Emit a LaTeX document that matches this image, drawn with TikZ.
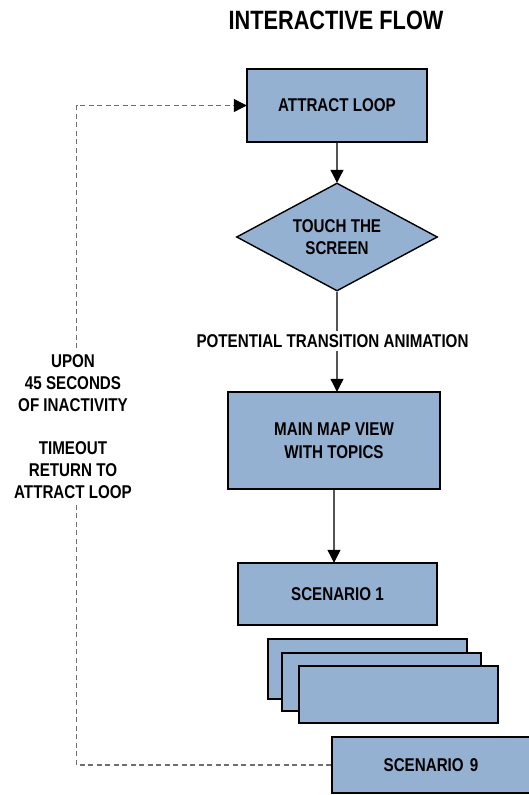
\documentclass[tikz,border=0pt]{standalone}
\usepackage{fontspec}
\newfontfamily\nar[FakeStretch=0.82]{Liberation Sans Bold}
\usetikzlibrary{shapes.geometric,arrows.meta}
\definecolor{boxfill}{RGB}{149,177,210}
\definecolor{linegray}{RGB}{85,85,85}
\definecolor{dashgray}{RGB}{110,110,110}
\tikzset{
  box/.style={draw=black, line width=1.4pt, fill=boxfill, inner sep=0pt, align=center,
    font=\nar\fontsize{18.5}{22.5}\selectfont},
  decision/.style={box, diamond, aspect=1.86},
  tip/.style={-{Triangle[length=13pt,width=13pt,color=black]}},
  flow/.style={draw=linegray, line width=1.1pt, tip, shorten >=-0.5pt},
  back/.style={draw=dashgray, line width=1.1pt, dash pattern=on 5pt off 3.5pt, tip, shorten >=-0.5pt},
  lbl/.style={fill=white, inner sep=3pt, align=center, font=\nar\fontsize{18.5}{21.8}\selectfont},
}
\begin{document}
\begin{tikzpicture}[x=1pt,y=-1pt]
\useasboundingbox (0,0) rectangle (529,795);
\clip (0,0) rectangle (529,795);
\node[font=\nar\fontsize{26.5}{30}\selectfont] (title) at (336,20) {INTERACTIVE FLOW};
\node[box, minimum width=180, minimum height=73] (attract) at (337,105.5) {ATTRACT LOOP};
\node[decision, minimum width=201, minimum height=108] (touch) at (337,237) {TOUCH THE\\SCREEN};
\node[box, minimum width=212, minimum height=97] (main) at (334,440.5) {MAIN MAP VIEW\\WITH TOPICS};
\node[box, minimum width=199, minimum height=62] (s1) at (337.5,594) {SCENARIO 1};
\node[box, minimum width=199, minimum height=60] (sa) at (367.5,669) {};
\node[box, minimum width=199, minimum height=58] (sb) at (381.5,682) {};
\node[box, minimum width=199, minimum height=57] (sc) at (398.5,694.5) {};
\node[box, minimum width=198, minimum height=56, text width=198, align=center] (s9) at (431,765) {SCENARIO 9};

\draw[flow] (attract.south) -- (attract.south |- touch.north);
\draw[flow] (touch.south) -- (touch.south |- main.north);
\node[lbl] (trans) at (332.5,341) {POTENTIAL TRANSITION ANIMATION};
\draw[flow] (main.south) -- (main.south |- s1.north);

\coordinate (corner) at (76.5,765);
\draw[back] (s9.west) -- (corner) |- (attract.west);
\node[lbl] (timeout) at (73,426.5) {UPON\\45 SECONDS\\OF INACTIVITY\\[21.8pt]TIMEOUT\\RETURN TO\\ATTRACT LOOP};
\end{tikzpicture}
\end{document}
